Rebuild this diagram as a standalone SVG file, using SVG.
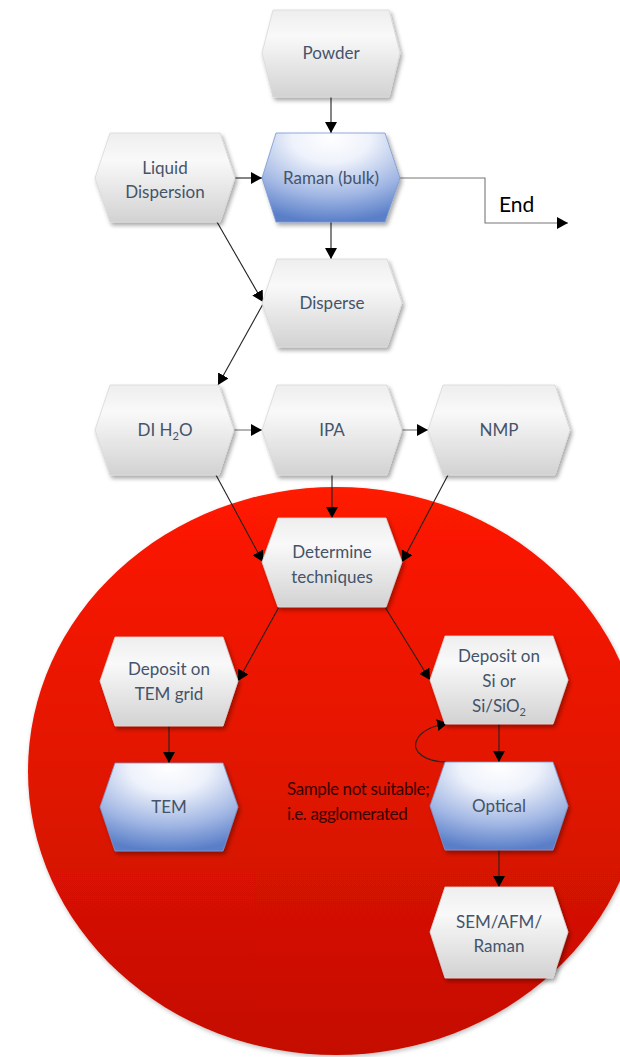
<svg xmlns="http://www.w3.org/2000/svg" width="620" height="1057" viewBox="0 0 620 1057">
<defs>
  <linearGradient id="red" x1="0" y1="0" x2="0" y2="1">
    <stop offset="0" stop-color="#ff1a02"/>
    <stop offset="1" stop-color="#c40e00"/>
  </linearGradient>
  <linearGradient id="grey" x1="0" y1="0" x2="0" y2="1">
    <stop offset="0" stop-color="#eeeeee"/>
    <stop offset="0.3" stop-color="#f9f9f9"/>
    <stop offset="1" stop-color="#d2d2d2"/>
  </linearGradient>
  <radialGradient id="blue" cx="0.5" cy="0.05" r="0.95" fx="0.5" fy="0.05">
    <stop offset="0" stop-color="#ffffff"/>
    <stop offset="0.3" stop-color="#eef2fb"/>
    <stop offset="0.7" stop-color="#9fb5e3"/>
    <stop offset="1" stop-color="#5a7fc8"/>
  </radialGradient>
  <filter id="sh" x="-10%" y="-10%" width="125%" height="130%">
    <feDropShadow dx="2" dy="3" stdDeviation="2" flood-color="#000" flood-opacity="0.35"/>
  </filter>
  <filter id="csh" x="-5%" y="-5%" width="110%" height="110%">
    <feDropShadow dx="1" dy="2" stdDeviation="2" flood-color="#000" flood-opacity="0.25"/>
  </filter>
  <marker id="ah" markerUnits="userSpaceOnUse" markerWidth="12" markerHeight="12" refX="11" refY="6" orient="auto">
    <path d="M0,0 L11,6 L0,12 z" fill="#000"/>
  </marker>
</defs>
<style>
  .hex { fill: url(#grey); stroke: #d8d8d8; stroke-width: 0.8; filter: url(#sh); }
  .hexb { fill: url(#blue); stroke: #7a97d2; stroke-width: 0.8; filter: url(#sh); }
  .t { font-family: Lato, "Open Sans", sans-serif; font-size: 17px; fill: #44546a; text-anchor: middle; }
  .c { fill: none; stroke: #222; stroke-width: 1.1; marker-end: url(#ah); }
  .lbl { font-family: Lato, "Open Sans", sans-serif; font-size: 17px; fill: #3a0000; letter-spacing: -0.4px; }
  .end { font-family: Lato, "Open Sans", sans-serif; font-size: 21px; fill: #000; }
</style>

<ellipse id="region" cx="336" cy="771" rx="308" ry="284" fill="url(#red)" filter="url(#csh)"/>

<g id="connectors">
  <path class="c" d="M331,97 L331,133"/>
  <path class="c" d="M235,178 L262,178"/>
  <path class="c" d="M400,178 L485,178 L485,223 L568,223" style="stroke:#777"/>
  <path class="c" d="M331,222 L331,259"/>
  <path class="c" d="M217,222 L263,302"/>
  <path class="c" d="M263,304 L218,385"/>
  <path class="c" d="M234,430 L262,430" style="stroke:#777"/>
  <path class="c" d="M402,430 L428,430" style="stroke:#777"/>
  <path class="c" d="M216,475 L263,562"/>
  <path class="c" d="M332,475 L332,518"/>
  <path class="c" d="M448,475 L402,562"/>
  <path class="c" d="M279,607 L238,681"/>
  <path class="c" d="M385,607 L430,680"/>
  <path class="c" d="M169,726 L169,763"/>
  <path class="c" d="M499,724 L499,762"/>
  <path class="c" d="M447,762 C425,762 413,752 416,742 C419,732 432,726 448,723"/>
  <path class="c" d="M499,850 L499,887"/>
</g>
<text class="end" x="499" y="212">End</text>

<g id="powder">
  <polygon class="hex" points="262,53 273,10 389,10 400,53 389,97 273,97"/>
  <text class="t" x="331" y="59">Powder</text>
</g>
<g id="liquid">
  <polygon class="hex" points="95,178 110,133 220,133 235,178 220,222 110,222"/>
  <text class="t" x="165" y="174">Liquid</text>
  <text class="t" x="165" y="198">Dispersion</text>
</g>
<g id="raman-bulk">
  <polygon class="hexb" points="262,178 276,133 385,133 400,178 385,222 276,222"/>
  <text class="t" x="331" y="184">Raman (bulk)</text>
</g>
<g id="disperse">
  <polygon class="hex" points="262,303 277,259 387,259 402,303 387,347 277,347"/>
  <text class="t" x="332" y="309">Disperse</text>
</g>
<g id="di-h2o">
  <polygon class="hex" points="95,430 110,385 219,385 234,430 219,475 110,475"/>
  <text class="t" x="165" y="436">DI H<tspan font-size="11" dy="4">2</tspan><tspan dy="-4">O</tspan></text>
</g>
<g id="ipa">
  <polygon class="hex" points="262,430 277,385 387,385 402,430 387,475 277,475"/>
  <text class="t" x="332" y="436">IPA</text>
</g>
<g id="nmp">
  <polygon class="hex" points="428,430 443,385 555,385 570,430 555,475 443,475"/>
  <text class="t" x="499" y="436">NMP</text>
</g>
<g id="determine">
  <polygon class="hex" points="262,562 278,518 386,518 402,562 386,607 278,607"/>
  <text class="t" x="332" y="558">Determine</text>
  <text class="t" x="332" y="583">techniques</text>
</g>
<g id="deposit-tem">
  <polygon class="hex" points="100,681 115,637 223,637 238,681 223,726 115,726"/>
  <text class="t" x="169" y="675">Deposit on</text>
  <text class="t" x="169" y="700">TEM grid</text>
</g>
<g id="deposit-si">
  <polygon class="hex" points="430,680 445,636 553,636 568,680 553,724 445,724"/>
  <text class="t" x="499" y="662">Deposit on</text>
  <text class="t" x="499" y="687">Si or</text>
  <text class="t" x="499" y="712">Si/SiO<tspan font-size="11" dy="4">2</tspan></text>
</g>
<g id="tem">
  <polygon class="hexb" points="100,807 115,763 223,763 238,807 223,851 115,851"/>
  <text class="t" x="169" y="813">TEM</text>
</g>
<g id="optical">
  <polygon class="hexb" points="430,806 445,762 553,762 568,806 553,850 445,850"/>
  <text class="t" x="499" y="812">Optical</text>
</g>
<g id="sem">
  <polygon class="hex" points="430,932 445,887 553,887 568,932 553,978 445,978"/>
  <text class="t" x="499" y="928">SEM/AFM/</text>
  <text class="t" x="499" y="952">Raman</text>
</g>
<g id="note">
  <text class="lbl" x="287" y="795">Sample not suitable;</text>
  <text class="lbl" x="287" y="820">i.e. agglomerated</text>
</g>
</svg>
